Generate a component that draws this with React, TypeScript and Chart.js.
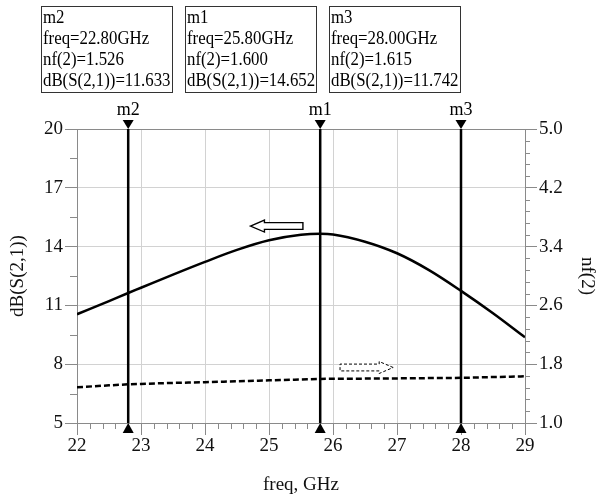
import React, { useEffect, useRef } from 'react';
import { Chart, registerables } from 'chart.js';

Chart.register(...registerables);

// ---------- data ----------
const freqs = [22, 22.5, 22.8, 23, 23.5, 24, 24.5, 25, 25.5, 25.8, 26, 26.5, 27, 27.5, 28, 28.5, 29];
const dbS21 = [10.55, 11.22, 11.633, 11.9, 12.57, 13.22, 13.83, 14.32, 14.6, 14.652, 14.62, 14.25, 13.66, 12.8, 11.742, 10.6, 9.37];
const nf2 = [1.486, 1.512, 1.526, 1.532, 1.545, 1.555, 1.568, 1.58, 1.592, 1.6, 1.601, 1.604, 1.607, 1.611, 1.615, 1.625, 1.635];

const xTicks = [22, 23, 24, 25, 26, 27, 28, 29];
const yLeftTicks = [5, 8, 11, 14, 17, 20];
const yRightTicks = [1.0, 1.8, 2.6, 3.4, 4.2, 5.0];

const markerNames = ['m2', 'm1', 'm3'];
const markerFreqs = [22.8, 25.8, 28.0];
const markerNf = [1.526, 1.6, 1.615];
const markerDb = [11.633, 14.652, 11.742];

// direction arrows (axis indicators) in data coordinates
const leftArrowFreqs = [24.71, 25.53]; // tip, tail
const leftArrowValue = 15.05; // left axis
const rightArrowFreqs = [26.11, 26.94]; // tail, tip
const rightArrowValue = 1.755; // right axis

// ---------- layout/style constants ----------
const FONT = '"Liberation Serif", "Times New Roman", serif';
const W = 597;
const H = 497;
const BOX_LEFTS = [41, 185, 329];
const BOX_TOP = 6;
const BOX_W = 131;
const BOX_H = 86;
const BOX_TEXT_SX = 0.885;
const GRID = '#d2d2d2';
const AXIS = '#8a8a8a';

function drawArrow(ctx: CanvasRenderingContext2D, tipX: number, tailX: number, cy: number, dashed: boolean) {
  const dir = tailX > tipX ? 1 : -1;
  const headLen = 14;
  const headH = 6;
  const shaftH = 3.4;
  const hb = tipX + dir * headLen;
  ctx.save();
  ctx.beginPath();
  ctx.moveTo(tipX, cy);
  ctx.lineTo(hb, cy - headH);
  ctx.lineTo(hb, cy - shaftH);
  ctx.lineTo(tailX, cy - shaftH);
  ctx.lineTo(tailX, cy + shaftH);
  ctx.lineTo(hb, cy + shaftH);
  ctx.lineTo(hb, cy + headH);
  ctx.closePath();
  ctx.fillStyle = '#fff';
  ctx.fill();
  ctx.strokeStyle = '#000';
  if (dashed) {
    ctx.setLineDash([3, 2]);
    ctx.lineWidth = 1;
  } else {
    ctx.lineWidth = 1.4;
  }
  ctx.stroke();
  ctx.restore();
}

const overlayPlugin = {
  id: 'adsOverlay',
  beforeDatasetsDraw(chart: any) {
    const ctx: CanvasRenderingContext2D = chart.ctx;
    const { left, right, top, bottom } = chart.chartArea;
    const xs = chart.scales.x;
    const yl = chart.scales.y;
    const yr = chart.scales.y2;
    ctx.save();
    ctx.strokeStyle = AXIS;
    ctx.lineWidth = 1;
    ctx.beginPath();
    for (let i = 0; i < xTicks.length - 1; i++) {
      for (let k = 1; k < 5; k++) {
        const v = xTicks[i] + ((xTicks[i + 1] - xTicks[i]) * k) / 5;
        const px = Math.round(xs.getPixelForValue(v)) + 0.5;
        ctx.moveTo(px, bottom);
        ctx.lineTo(px, bottom + 6);
      }
    }
    for (let i = 0; i < yLeftTicks.length - 1; i++) {
      const v = (yLeftTicks[i] + yLeftTicks[i + 1]) / 2;
      const py = Math.round(yl.getPixelForValue(v)) + 0.5;
      ctx.moveTo(left, py);
      ctx.lineTo(left - 7, py);
    }
    for (let i = 0; i < yRightTicks.length - 1; i++) {
      for (let k = 1; k < 5; k++) {
        const v = yRightTicks[i] + ((yRightTicks[i + 1] - yRightTicks[i]) * k) / 5;
        const py = Math.round(yr.getPixelForValue(v)) + 0.5;
        ctx.moveTo(right, py);
        ctx.lineTo(right + 5, py);
      }
    }
    ctx.stroke();
    ctx.beginPath();
    ctx.rect(Math.round(left) + 0.5, Math.round(top) + 0.5, Math.round(right - left), Math.round(bottom - top));
    ctx.stroke();
    ctx.restore();
  },
  afterDraw(chart: any) {
    const ctx: CanvasRenderingContext2D = chart.ctx;
    const { top, bottom } = chart.chartArea;
    const xs = chart.scales.x;
    const yl = chart.scales.y;
    const yr = chart.scales.y2;
    ctx.save();

    drawArrow(ctx, xs.getPixelForValue(leftArrowFreqs[0]), xs.getPixelForValue(leftArrowFreqs[1]), yl.getPixelForValue(leftArrowValue), false);
    drawArrow(ctx, xs.getPixelForValue(rightArrowFreqs[1]), xs.getPixelForValue(rightArrowFreqs[0]), yr.getPixelForValue(rightArrowValue), true);

    markerFreqs.forEach((f, i) => {
      const px = xs.getPixelForValue(f);
      ctx.strokeStyle = '#000';
      ctx.fillStyle = '#000';
      ctx.lineWidth = 2.5;
      ctx.setLineDash([]);
      ctx.beginPath();
      ctx.moveTo(px, top);
      ctx.lineTo(px, bottom);
      ctx.stroke();
      ctx.beginPath();
      ctx.moveTo(px - 5.5, top - 9);
      ctx.lineTo(px + 5.5, top - 9);
      ctx.lineTo(px, top);
      ctx.closePath();
      ctx.fill();
      ctx.beginPath();
      ctx.moveTo(px - 5.5, bottom + 10);
      ctx.lineTo(px + 5.5, bottom + 10);
      ctx.lineTo(px, bottom);
      ctx.closePath();
      ctx.fill();
      ctx.font = `18px ${FONT}`;
      ctx.textAlign = 'center';
      ctx.textBaseline = 'alphabetic';
      ctx.fillText(markerNames[i], px, top - 14);
    });

    markerNames.forEach((name, i) => {
      const bx = BOX_LEFTS[i];
      ctx.strokeStyle = '#333';
      ctx.lineWidth = 1;
      ctx.strokeRect(bx + 0.5, BOX_TOP + 0.5, BOX_W, BOX_H);
      const lines = [
        name,
        `freq=${markerFreqs[i].toFixed(2)}GHz`,
        `nf(2)=${markerNf[i].toFixed(3)}`,
        `dB(S(2,1))=${markerDb[i].toFixed(3)}`,
      ];
      ctx.save();
      ctx.translate(bx + 2, 0);
      ctx.scale(BOX_TEXT_SX, 1);
      ctx.fillStyle = '#000';
      ctx.font = `19px ${FONT}`;
      ctx.textAlign = 'left';
      ctx.textBaseline = 'alphabetic';
      lines.forEach((t, j) => {
        ctx.fillText(t, 0, BOX_TOP + 17 + j * 21);
      });
      ctx.restore();
    });
    ctx.restore();
  },
};

export default function App() {
  const ref = useRef<HTMLCanvasElement | null>(null);
  useEffect(() => {
    if (!ref.current) return;
    Chart.defaults.font.family = FONT;
    const tickFont = { size: 19, family: FONT };
    const chart = new Chart(ref.current, {
      type: 'line',
      data: {
        datasets: [
          {
            label: 'dB(S(2,1))',
            data: freqs.map((f, i) => ({ x: f, y: dbS21[i] })),
            yAxisID: 'y',
            borderColor: '#000',
            borderWidth: 2.5,
            pointRadius: 0,
            fill: false,
            cubicInterpolationMode: 'monotone',
          },
          {
            label: 'nf(2)',
            data: freqs.map((f, i) => ({ x: f, y: nf2[i] })),
            yAxisID: 'y2',
            borderColor: '#000',
            borderWidth: 2.5,
            borderDash: [6, 3],
            pointRadius: 0,
            fill: false,
            cubicInterpolationMode: 'monotone',
          },
        ],
      },
      options: {
        responsive: false,
        animation: false,
        layout: { padding: { top: 129, left: 0, right: 0, bottom: 0 } },
        plugins: { legend: { display: false }, tooltip: { enabled: false } },
        scales: {
          x: {
            type: 'linear',
            min: 22,
            max: 29,
            afterBuildTicks: (s: any) => {
              s.ticks = xTicks.map((v) => ({ value: v }));
            },
            afterFit: (s: any) => {
              s.height = 74;
            },
            grid: { color: GRID, tickColor: AXIS, tickLength: 12, lineWidth: 1 },
            border: { color: AXIS },
            ticks: { font: tickFont, color: '#111', padding: 0, maxRotation: 0, autoSkip: false },
            title: { display: true, text: 'freq, GHz', font: tickFont, color: '#111', padding: { top: 0, bottom: 1 } },
          },
          y: {
            type: 'linear',
            position: 'left',
            min: 5,
            max: 20,
            afterBuildTicks: (s: any) => {
              s.ticks = yLeftTicks.map((v) => ({ value: v }));
            },
            afterFit: (s: any) => {
              s.width = 77;
            },
            grid: { color: GRID, tickColor: AXIS, tickLength: 12, lineWidth: 1 },
            border: { color: AXIS },
            ticks: { font: tickFont, color: '#111', padding: 2, autoSkip: false },
            title: { display: true, text: 'dB(S(2,1))', font: tickFont, color: '#111', padding: { top: 7, bottom: 0 } },
          },
          y2: {
            type: 'linear',
            position: 'right',
            min: 1,
            max: 5,
            afterBuildTicks: (s: any) => {
              s.ticks = yRightTicks.map((v) => ({ value: v }));
            },
            afterFit: (s: any) => {
              s.width = W - 525;
            },
            grid: { drawOnChartArea: false, tickColor: AXIS, tickLength: 12, lineWidth: 1 },
            border: { color: AXIS },
            ticks: {
              font: tickFont,
              color: '#111',
              padding: 2,
              autoSkip: false,
              callback: (v: any) => Number(v).toFixed(1),
            },
            title: { display: true, text: 'nf(2)', font: tickFont, color: '#111', padding: { top: -1, bottom: 0 } },
          },
        },
      },
      plugins: [overlayPlugin],
    } as any);
    return () => chart.destroy();
  }, []);

  return (
    <div style={{ position: 'absolute', left: 0, top: 0, width: W, height: H, background: '#fff' }}>
      <canvas ref={ref} width={W} height={H} style={{ display: 'block', width: W, height: H }} />
    </div>
  );
}
